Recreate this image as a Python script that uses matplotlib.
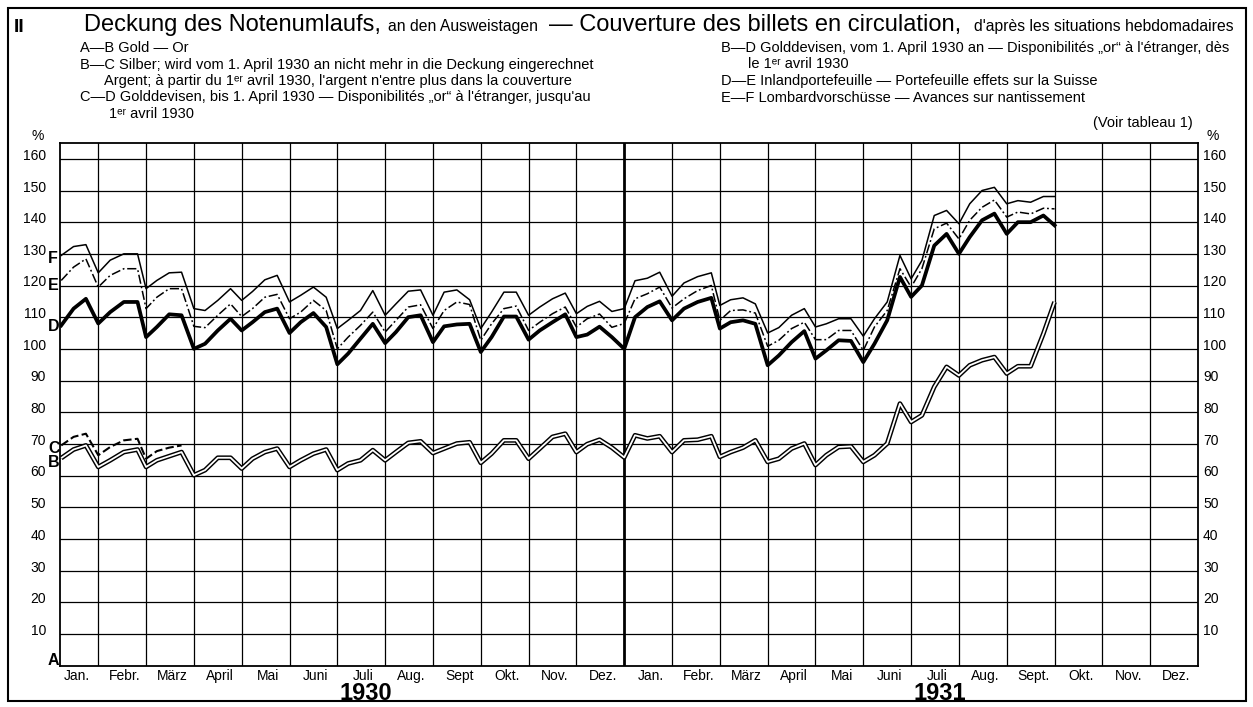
import matplotlib
matplotlib.use("Agg")
import matplotlib.pyplot as plt
from matplotlib import font_manager
from matplotlib.patches import Rectangle

# ---------------- data (weekly statements: 7th, 15th, 23rd, month end) ----------------
# Jan 1930 ... Sep 1931, values in % of notes in circulation (cumulative lines)
F_lombard = [129.5, 132.3, 132.9, 124.0, 128.0, 130.0, 130.0, 119.0, 121.6, 124.0, 124.2, 112.7,
             112.1, 115.3, 119.0, 115.3, 118.1, 121.8, 123.2, 114.8, 116.9, 119.5, 116.3, 106.4,
             109.0, 112.1, 118.4, 110.6, 114.2, 118.2, 118.6, 110.6, 117.9, 118.6, 115.5, 106.4,
             111.6, 117.9, 117.9, 110.6, 113.2, 115.8, 117.6, 111.1, 113.4, 115.0, 111.8, 112.7,
             121.5, 122.3, 124.2, 116.6, 120.8, 122.8, 124.0, 113.7, 115.5, 116.1, 114.2, 105.0,
             106.7, 110.6, 112.7, 106.9, 107.9, 109.5, 109.5, 104.0, 109.5, 114.8, 129.5, 122.1,
             127.9, 142.1, 143.7, 139.5, 145.8, 150.0, 151.0, 145.8, 146.8, 146.3, 148.1, 148.1]
E_inland = [121.6, 125.8, 128.4, 119.5, 123.2, 125.3, 125.3, 112.7, 116.3, 119.0, 119.0, 107.1,
            106.7, 110.6, 114.2, 110.2, 112.7, 116.3, 117.2, 109.5, 111.6, 115.3, 112.1, 100.0,
            103.7, 107.4, 111.6, 105.3, 109.0, 113.2, 113.9, 106.4, 112.1, 114.8, 114.0, 102.7,
            107.9, 112.7, 113.5, 105.8, 108.4, 111.1, 113.2, 106.9, 109.5, 111.0, 106.8, 108.0,
            115.8, 117.4, 119.5, 112.9, 115.8, 118.4, 120.0, 109.0, 112.1, 112.3, 111.3, 100.8,
            102.7, 106.4, 108.4, 102.9, 102.9, 105.8, 105.8, 99.5, 106.9, 112.1, 125.3, 119.5,
            125.3, 137.9, 139.7, 134.7, 140.6, 144.7, 147.0, 141.6, 143.2, 142.6, 144.4, 144.2]
D_devisen = [107.4, 112.7, 115.8, 108.0, 111.6, 114.8, 114.8, 103.7, 106.9, 110.9, 110.6, 100.0,
             101.6, 105.8, 109.5, 105.8, 108.4, 111.6, 112.7, 105.0, 108.4, 111.3, 106.9, 95.1,
             98.5, 103.2, 107.9, 101.8, 105.3, 110.0, 110.6, 102.1, 107.1, 107.7, 107.9, 99.0,
             103.7, 110.2, 110.2, 102.9, 105.8, 108.4, 110.9, 103.7, 104.5, 107.0, 103.7, 100.0,
             110.0, 113.2, 115.0, 109.0, 112.7, 114.8, 116.1, 106.4, 108.4, 109.0, 107.9, 94.8,
             97.9, 102.1, 105.6, 96.9, 99.5, 102.7, 102.5, 95.8, 101.6, 109.0, 122.7, 116.4,
             120.0, 132.6, 136.3, 130.0, 135.3, 140.6, 142.7, 136.3, 140.0, 140.0, 142.1, 139.0]
C_silber = [69.5, 72.2, 73.2, 66.4, 69.0, 71.1, 71.6, 65.3, 67.7, 68.8, 69.5]
B_gold = [65.5, 68.2, 69.5, 62.7, 64.8, 67.4, 68.2, 62.7, 64.8, 66.1, 67.4, 60.1,
          61.7, 65.6, 65.6, 62.2, 65.3, 67.4, 68.5, 62.7, 64.8, 66.9, 68.2, 61.7,
          63.8, 64.8, 68.0, 64.8, 67.4, 70.3, 70.8, 67.1, 68.5, 70.1, 70.5, 64.0,
          66.9, 71.1, 71.1, 65.3, 68.5, 72.2, 73.2, 67.4, 69.9, 71.3, 68.8, 65.7,
          72.7, 71.7, 72.4, 67.4, 71.1, 71.3, 72.4, 65.9, 67.4, 68.8, 71.1, 64.3,
          65.3, 68.5, 70.1, 63.3, 66.4, 69.0, 69.2, 64.3, 66.4, 70.1, 82.7, 76.9,
          79.0, 88.0, 94.3, 91.6, 94.8, 96.4, 97.4, 92.2, 94.5, 94.5, 104.8, 114.8]

months_1930 = ["Jan.", "Febr.", "März", "April", "Mai", "Juni", "Juli", "Aug.", "Sept", "Okt.", "Nov.", "Dez."]
months_1931 = ["Jan.", "Febr.", "März", "April", "Mai", "Juni", "Juli", "Aug.", "Sept.", "Okt.", "Nov.", "Dez."]
years = ["1930", "1931"]
month_days = [31, 28, 31, 30, 31, 30, 31, 31, 30, 31, 30, 31]
statement_days = [7, 15, 23]
y_ticks = list(range(10, 170, 10))

title_parts = ["Deckung des Notenumlaufs,", "an den Ausweistagen",
               "— Couverture des billets en circulation,", "d'après les situations hebdomadaires"]
legend_left = ["A—B Gold — Or",
               "B—C Silber; wird vom 1. April 1930 an nicht mehr in die Deckung eingerechnet",
               "Argent; à partir du 1ᵉʳ avril 1930, l'argent n'entre plus dans la couverture",
               "C—D Golddevisen, bis 1. April 1930 — Disponibilités „or“ à l'étranger, jusqu'au",
               "1ᵉʳ avril 1930"]
legend_right = ["B—D Golddevisen, vom 1. April 1930 an — Disponibilités „or“ à l'étranger, dès",
                "le 1ᵉʳ avril 1930",
                "D—E Inlandportefeuille — Portefeuille effets sur la Suisse",
                "E—F Lombardvorschüsse — Avances sur nantissement"]
note = "(Voir tableau 1)"

# ---------------- positions of the weekly statements in month units ----------------
x_pos = []
for m in range(len(F_lombard) // 4):
    nd = month_days[m % 12]
    for d in statement_days:
        x_pos.append(m + d / nd)
    x_pos.append(m + 1.0)

# ---------------- figure ----------------
W, H = 1253, 707
fig = plt.figure(figsize=(W / 100, H / 100), dpi=100)
names = {f.name for f in font_manager.fontManager.ttflist}
FONT = "Liberation Sans Narrow" if "Liberation Sans Narrow" in names else "Liberation Sans"
plt.rcParams["font.family"] = [FONT, "DejaVu Sans"]
renderer = fig.canvas.get_renderer()


def ftext(x, y, s, **kw):
    return fig.text(x / W, 1 - y / H, s, **kw)


def ypx(v):
    return 665.5 - v * 522.5 / 165.0


ax = fig.add_axes([60 / W, 1 - 665.5 / H, 1138 / W, 522.5 / H])
ax.set_xlim(0.2, 24)
ax.set_ylim(0, 165)
ax.set_xticks([])
ax.set_yticks([])
for s in ax.spines.values():
    s.set_linewidth(1.3)
for v in y_ticks:
    ax.axhline(v, color="k", lw=0.9, zorder=1)
for m in range(1, 24):
    ax.axvline(m, color="k", lw=2.0 if m == 12 else 0.9, zorder=1)

# gold: double line
ax.plot(x_pos, B_gold, color="k", lw=3.4, zorder=3, solid_capstyle="butt")
ax.plot(x_pos, B_gold, color="white", lw=1.3, zorder=4, solid_capstyle="butt")
ax.plot(x_pos[:len(C_silber)], C_silber, color="k", lw=1.5, ls=(0, (4, 1.6)), zorder=3)
ax.plot(x_pos, D_devisen, color="k", lw=2.7, zorder=5)
ax.plot(x_pos, E_inland, color="k", lw=1.1, ls=(0, (6, 1.8, 1.2, 1.8)), zorder=5)
ax.plot(x_pos, F_lombard, color="k", lw=1.1, zorder=5)

# ---------------- axis labels ----------------
tick_fs = 10
month_fs = 10
for v in y_ticks:
    ftext(46, ypx(v) - 3, str(v), ha="right", va="center", fontsize=tick_fs)
    ftext(1203, ypx(v) - 3, str(v), ha="left", va="center", fontsize=tick_fs)
ftext(38, 136, "%", ha="center", va="center", fontsize=tick_fs)
ftext(1213, 136, "%", ha="center", va="center", fontsize=tick_fs)

for lab, val in [("F", F_lombard[0] - 1), ("E", E_inland[0] - 1.5), ("D", D_devisen[0] - 0.5),
                 ("C", C_silber[0] - 1), ("B", B_gold[0] - 1.5), ("A", 1.5)]:
    ftext(48, ypx(val), lab, ha="left", va="center", fontsize=11.5, fontweight="bold")

x0_px, pxm = 60 - 0.2 * 1138 / 23.8, 1138 / 23.8
for i, lab in enumerate(months_1930 + months_1931):
    ftext(x0_px + (i + 0.55) * pxm, 676, lab, ha="center", va="center", fontsize=month_fs)
for xm, yr in zip([6.6, 18.6], years):
    ftext(x0_px + xm * pxm, 693, yr, ha="center", va="center", fontsize=17,
          fontweight="bold", family=["Liberation Sans", "DejaVu Sans"])

# ---------------- title and legend ----------------
ftext(19, 27, "II", ha="center", va="center", fontsize=14, fontweight="bold")

probe = ftext(80, 70, legend_left[1], fontsize=10, va="center")
small = 10 * 513 / probe.get_window_extent(renderer).width
probe.remove()

probe = ftext(84, 31, title_parts[0], fontsize=20, va="baseline")
big = 20 * 296 / probe.get_window_extent(renderer).width
probe.remove()

sizes = [big, small * 1.08, big, small * 1.08]
gaps = [7, 10, 14]
texts = [ftext(84, 31, s, fontsize=fs, va="baseline") for s, fs in zip(title_parts, sizes)]
widths = [t.get_window_extent(renderer).width for t in texts]
factor = (1236 - 84) / (sum(widths) + sum(gaps))
x = 84.0
for i, t in enumerate(texts):
    t.set_fontsize(sizes[i] * factor)
    t.set_x(x / W)
    x += widths[i] * factor + (gaps[i] * factor if i < len(gaps) else 0)

left_pos = [(80, 48), (80, 64.5), (104, 81), (80, 97.5), (109, 114)]
for (x, y), s in zip(left_pos, legend_left):
    ftext(x, y, s, fontsize=small, va="center")
right_pos = [(721, 48), (748, 64.5), (721, 81), (721, 97.5)]
for (x, y), s in zip(right_pos, legend_right):
    ftext(x, y, s, fontsize=small, va="center")
ftext(1193, 123, note, fontsize=small, va="center", ha="right")

fig.add_artist(Rectangle((8 / W, 1 - 701 / H), 1238 / W, 693 / H, transform=fig.transFigure,
                         fill=False, edgecolor="k", lw=1.5))

fig.savefig("out.png", dpi=100, facecolor="white")
